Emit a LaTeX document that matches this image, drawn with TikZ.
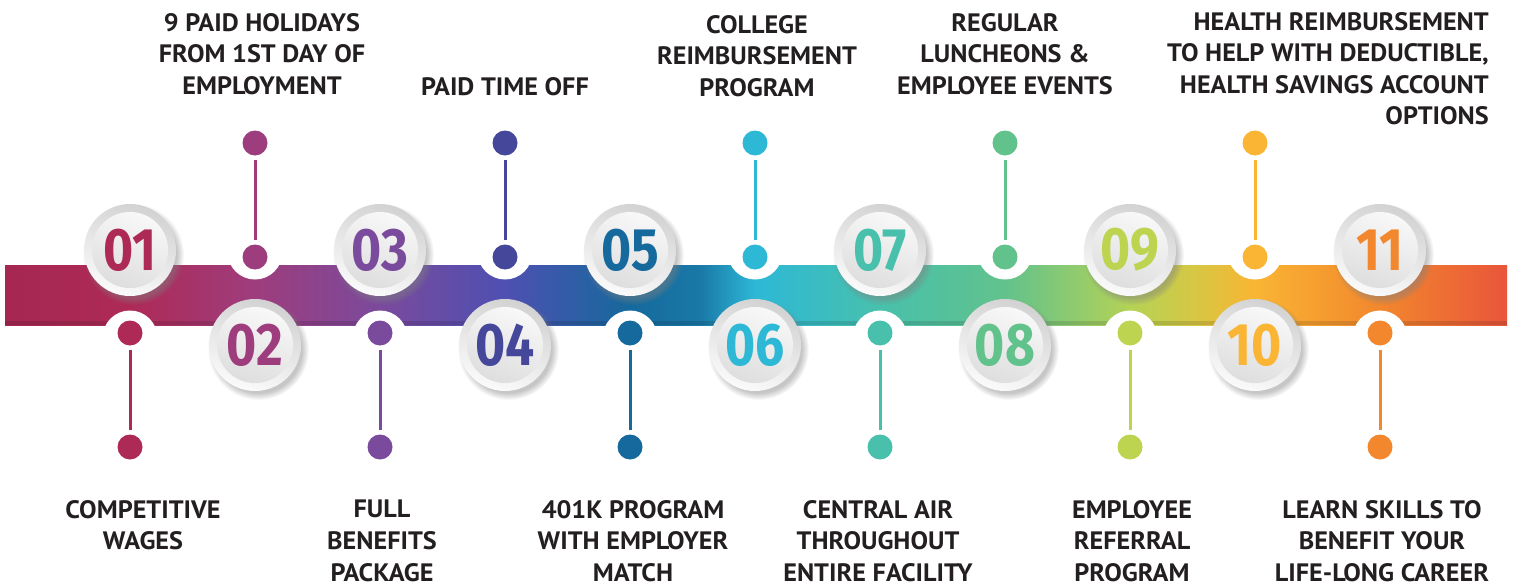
\documentclass[tikz,border=0pt]{standalone}
\usepackage{fontspec}
\setmainfont{PT Sans}[FakeStretch=1.04]
\newfontfamily\numfont{Fira Sans}[FakeStretch=0.86]
\usetikzlibrary{shadows}

\definecolor{c1}{HTML}{AE2A56}
\definecolor{c2}{HTML}{9E3D7D}
\definecolor{c3}{HTML}{7A4A9C}
\definecolor{c4}{HTML}{45479A}
\definecolor{c5}{HTML}{15699C}
\definecolor{c6}{HTML}{2DB8D6}
\definecolor{c7}{HTML}{48C0AC}
\definecolor{c8}{HTML}{62C28C}
\definecolor{c9}{HTML}{BDD450}
\definecolor{c10}{HTML}{F9B533}
\definecolor{c11}{HTML}{F2872D}
\definecolor{bandend}{HTML}{E9553B}
\definecolor{txt}{HTML}{231F20}
\definecolor{ringtop}{HTML}{D2D2D2}
\definecolor{ringbot}{HTML}{FAFAFA}
\definecolor{facetop}{HTML}{F8F8F8}
\definecolor{facebot}{HTML}{DEDEDE}

% band colours, left to right
\pgfdeclarehorizontalshading{bandshade}{100bp}{%
  color(0bp)=(c1!95!black); color(25bp)=(c1!95!black);
  color(29.16bp)=(c1); color(33.32bp)=(c2); color(37.48bp)=(c3);
  color(41.64bp)=(c4!85!blue!90!white); color(45.81bp)=(c5); color(48.14bp)=(c5!80!c6);
  color(49.97bp)=(c6); color(54.13bp)=(c7); color(58.29bp)=(c8);
  color(62.45bp)=(c9!90!c8); color(64.5bp)=(c9!60!c10); color(66.61bp)=(c10);
  color(70.77bp)=(c11); color(75bp)=(bandend);
  color(100bp)=(bandend)}

\begin{document}
\begin{tikzpicture}[x=1pt, y=-1pt,
  ball/.style={circle, minimum size=92pt, inner sep=0, top color=ringtop, bottom color=ringbot,
    shading angle=-20, circular drop shadow={shadow xshift=3pt, shadow yshift=-4pt, opacity=.45}},
  face/.style={circle, minimum size=76pt, inner sep=0, top color=facetop, bottom color=facebot,
    shading angle=-20, font=\numfont\fontsize{60}{60}\selectfont\bfseries},
  dot/.style={circle, minimum size=25pt, inner sep=0},
  notch/.style={circle, fill=white, minimum size=55pt, inner sep=0},
  stem/.style={line width=3pt, shorten <=4pt, shorten >=4pt},
  lab/.style={inner sep=0, align=center, text=txt, font=\fontsize{25.2}{31.6}\selectfont\bfseries}]
\useasboundingbox (0,0) rectangle (1515,586);
\shade[shading=bandshade] (5,265) rectangle (1507,325);
\fill[black, opacity=.12] (5,321) rectangle (1507,325);

% circles on top, dots below
\foreach \i/\x in {1/130,3/380,5/630,7/880,9/1130,11/1380}{
  \node[notch] (k\i) at (\x,338) {};
  \node[ball] (b\i) at (\x,250) {};
  \node[face, text=c\i] (n\i) at (b\i) {\ifnum\i<10 0\fi\i};
  \node[dot, fill=c\i] (da\i) at (\x,333) {};
  \node[dot, fill=c\i] (db\i) at (\x,447) {};
  \draw[stem, c\i] (da\i) -- (db\i);
}
% circles below, dots on top
\foreach \i/\x in {2/255,4/505,6/755,8/1005,10/1255}{
  \node[notch] (k\i) at (\x,252) {};
  \node[ball] (b\i) at (\x,345) {};
  \node[face, text=c\i] (n\i) at (b\i) {\ifnum\i<10 0\fi\i};
  \node[dot, fill=c\i] (da\i) at (\x,257) {};
  \node[dot, fill=c\i] (db\i) at (\x,143) {};
  \draw[stem, c\i] (da\i) -- (db\i);
}

\node[lab, anchor=north] (l1) at (143,500) {COMPETITIVE\\WAGES};
\node[lab, anchor=north] (l3) at (382,500) {FULL\\BENEFITS\\PACKAGE};
\node[lab, anchor=north] (l5) at (633,500) {401K PROGRAM\\WITH EMPLOYER\\MATCH};
\node[lab, anchor=north] (l7) at (878,500) {CENTRAL AIR\\THROUGHOUT\\ENTIRE FACILITY};
\node[lab, anchor=north] (l9) at (1132,500) {EMPLOYEE\\REFERRAL\\PROGRAM};
\node[lab, anchor=north] (l11) at (1382,500) {LEARN SKILLS TO\\BENEFIT YOUR\\LIFE-LONG CAREER};

\node[lab, anchor=north] (l2) at (262,13) {9 PAID HOLIDAYS\\FROM 1ST DAY OF\\EMPLOYMENT};
\node[lab, anchor=north] (l4) at (505,77) {PAID TIME OFF};
\node[lab, anchor=north] (l6) at (757,15) {COLLEGE\\REIMBURSEMENT\\PROGRAM};
\node[lab, anchor=north] (l8) at (1005,13) {REGULAR\\LUNCHEONS \&\\EMPLOYEE EVENTS};
\node[lab, anchor=north east, align=right] (l10) at (1489,12) {HEALTH REIMBURSEMENT\\TO HELP WITH DEDUCTIBLE,\\HEALTH SAVINGS ACCOUNT\\OPTIONS};
\end{tikzpicture}
\end{document}
